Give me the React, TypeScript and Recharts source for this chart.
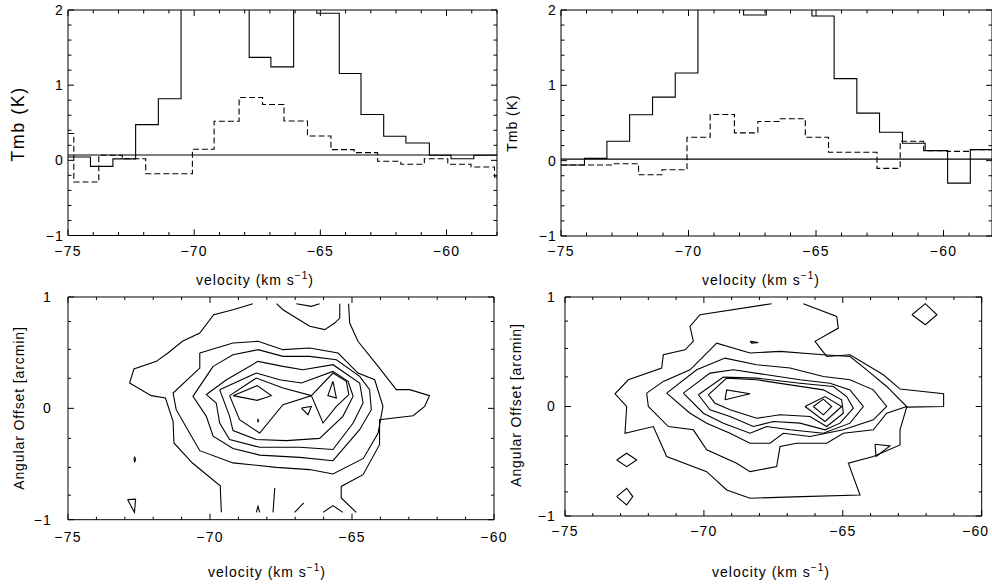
import React from 'react';
import { ComposedChart, Line, XAxis, YAxis, ReferenceLine } from 'recharts';

const FONT = '"Liberation Sans", Arial, Helvetica, sans-serif';

// ---------- Top-left spectrum ----------
const tlSolidEdges = [-75.0, -74.11, -73.22, -72.32, -71.42, -70.52, -69.63, -68.73, -67.82, -66.96, -66.06, -65.14, -64.25, -63.39, -62.49, -61.61, -60.68, -59.82, -58.92, -58.0];
const tlSolidValues = [0.045, -0.08, 0.02, 0.475, 0.82, 2.5, 2.8, 2.4, 1.37, 1.244, 2.3, 1.956, 1.156, 0.61, 0.32, 0.23, 0.067, 0.022, 0.067];
const tlDashEdges = [-75.0, -74.77, -73.78, -72.85, -71.92, -71.0, -70.07, -69.21, -68.22, -67.29, -66.44, -65.51, -64.58, -63.66, -62.73, -61.81, -60.88, -59.95, -59.03, -58.1, -58.0];
const tlDashValues = [0.356, -0.289, 0.067, 0.022, -0.178, -0.178, 0.147, 0.52, 0.836, 0.742, 0.524, 0.324, 0.142, 0.102, -0.013, -0.053, 0.022, -0.053, -0.089, -0.222];
const tlBaseline = 0.07;

// ---------- Top-right spectrum ----------
const trSolidEdges = [-75.0, -74.08, -73.2, -72.31, -71.41, -70.52, -69.63, -68.73, -67.84, -66.95, -66.06, -65.16, -64.29, -63.4, -62.51, -61.61, -60.72, -59.84, -58.95, -58.1];
const trSolidValues = [-0.058, 0.031, 0.258, 0.609, 0.844, 1.164, 2.6, 2.8, 1.933, 2.7, 2.5, 1.92, 1.089, 0.631, 0.378, 0.231, 0.133, -0.298, 0.147];
const trDashEdges = [-75.0, -73.85, -72.94, -71.96, -71.04, -70.06, -69.15, -68.2, -67.28, -66.4, -65.42, -64.51, -63.55, -62.61, -61.7, -60.78, -59.87, -58.95, -58.1];
const trDashValues = [-0.058, -0.058, -0.04, -0.187, -0.12, 0.31, 0.613, 0.369, 0.52, 0.556, 0.31, 0.111, 0.111, -0.102, 0.258, 0.133, 0.124, 0.147];
const trBaseline = 0.02;

// ---------- Bottom-left position-velocity contours: [velocity, offset] ----------
const blOuterLeft = [[-68.49, 0.94], [-69.19, 0.886], [-69.87, 0.841], [-70.36, 0.677], [-70.97, 0.602], [-71.48, 0.497], [-71.89, 0.422], [-72.68, 0.353], [-72.83, 0.228], [-72.07, 0.114], [-71.57, 0.093], [-71.3, -0.117], [-71.27, -0.311], [-70.62, -0.491], [-69.64, -0.695], [-69.6, -0.934]];
const blOuterRight = [[-65.12, 0.94], [-65.08, 0.766], [-64.79, 0.602], [-64.08, 0.377], [-63.44, 0.168], [-62.97, 0.168], [-62.27, 0.114], [-62.44, 0.018], [-62.85, -0.066], [-64.03, -0.102], [-64.03, -0.326], [-64.61, -0.596], [-65.38, -0.701], [-65.38, -0.805], [-64.85, -0.934]];
const blTopTrough = [[-67.66, 0.94], [-67.43, 0.886], [-66.49, 0.737], [-65.96, 0.707], [-65.61, 0.766], [-65.43, 0.811], [-65.43, 0.94]];
const blOuterBottom = [[-67.78, -0.934], [-67.72, -0.716]];
const blBottomSlash = [[-67.02, -0.934], [-66.7, -0.85]];
const blTopArch = [[-66.96, 0.94], [-66.43, 0.916], [-66.14, 0.94]];
const blBottomArch = [[-66.02, -0.934], [-65.67, -0.874], [-65.32, -0.934]];
const blBottomWedge = [[-68.37, -0.934], [-68.31, -0.88], [-68.25, -0.934]];
const blCornerBit = [[-72.9, -0.82], [-72.62, -0.815], [-72.66, -0.934], [-72.9, -0.82]];
const blDot1 = [[-72.68, -0.46], [-72.65, -0.44], [-72.62, -0.46], [-72.65, -0.48], [-72.68, -0.46]];
const blRing2 = [[-70.36, 0.497], [-69.19, 0.587], [-68.31, 0.602], [-67.43, 0.527], [-66.49, 0.542], [-65.49, 0.497], [-64.79, 0.317], [-64.2, 0.257], [-63.91, 0.018], [-64.08, -0.222], [-64.6, -0.45], [-65.67, -0.59], [-66.49, -0.55], [-67.66, -0.53], [-69.19, -0.49], [-70.36, -0.38], [-70.72, -0.222], [-71.19, -0.012], [-71.3, 0.138], [-70.36, 0.362], [-70.36, 0.497]];
const blRing3 = [[-69.89, 0.377], [-69.19, 0.482], [-68.31, 0.527], [-67.43, 0.467], [-66.49, 0.467], [-65.55, 0.437], [-64.73, 0.287], [-64.38, 0.168], [-64.32, -0.012], [-64.73, -0.192], [-65.67, -0.47], [-66.84, -0.44], [-68.25, -0.42], [-69.19, -0.36], [-69.89, -0.25], [-70.13, -0.072], [-70.6, 0.108], [-69.89, 0.377]];
const blRing4 = [[-69.42, 0.257], [-68.31, 0.422], [-67.43, 0.377], [-66.73, 0.347], [-65.67, 0.392], [-64.73, 0.228], [-64.61, 0.048], [-64.96, -0.132], [-65.67, -0.37], [-66.84, -0.35], [-68.25, -0.35], [-69.31, -0.28], [-69.66, -0.132], [-69.78, 0.048], [-70.13, 0.123], [-69.42, 0.257]];
const blRing5 = [[-69.66, 0.168], [-68.37, 0.317], [-67.55, 0.257], [-66.78, 0.228], [-65.67, 0.332], [-65.14, 0.243], [-64.96, 0.108], [-65.32, -0.072], [-66.14, -0.27], [-67.31, -0.29], [-68.37, -0.28], [-69.19, -0.2], [-69.31, -0.072], [-69.66, 0.168]];
const blRing6 = [[-69.31, 0.114], [-68.37, 0.272], [-67.43, 0.183], [-66.43, 0.114], [-65.67, 0.317], [-65.2, 0.243], [-65.11, 0.123], [-65.55, 0.018], [-66.02, -0.132], [-66.43, 0.114], [-67.43, 0.033], [-68.25, -0.222], [-68.96, -0.102], [-69.31, 0.114]];
const blPeakLeft = [[-69.19, 0.114], [-68.34, 0.204], [-67.84, 0.114], [-68.34, 0.072], [-69.19, 0.114]];
const blPeakRight = [[-65.67, 0.243], [-65.55, 0.093], [-65.85, 0.114], [-65.67, 0.243]];
const blHole = [[-66.78, 0.003], [-66.43, 0.018], [-66.55, -0.057], [-66.78, 0.003]];
const blDot2 = [[-68.33, -0.11], [-68.31, -0.1], [-68.29, -0.11], [-68.31, -0.12], [-68.33, -0.11]];

// ---------- Bottom-right position-velocity contours: [velocity, offset] ----------
const brOuter = [[-67.56, 0.939], [-70.14, 0.838], [-70.5, 0.732], [-70.38, 0.595], [-70.68, 0.518], [-71.46, 0.473], [-71.52, 0.351], [-72.72, 0.244], [-73.2, 0.116], [-72.78, 0.0], [-72.84, -0.244], [-71.82, -0.183], [-71.34, -0.457], [-69.9, -0.595], [-69.18, -0.762], [-68.34, -0.838], [-66.48, -0.823], [-64.38, -0.808], [-64.8, -0.518], [-63.9, -0.457], [-62.94, -0.351], [-62.94, -0.213], [-62.7, -0.006], [-61.37, 0.0], [-61.37, 0.116], [-62.94, 0.159], [-63.54, 0.29], [-64.74, 0.473], [-65.58, 0.457], [-66.0, 0.595], [-65.16, 0.716], [-65.22, 0.823], [-66.42, 0.939]];
const brRing2 = [[-72.06, 0.122], [-71.46, 0.229], [-70.5, 0.335], [-69.54, 0.579], [-68.34, 0.488], [-67.26, 0.503], [-65.7, 0.473], [-64.74, 0.457], [-64.14, 0.335], [-63.42, 0.183], [-62.7, 0.0], [-63.42, -0.061], [-63.9, -0.213], [-64.98, -0.244], [-65.58, -0.335], [-66.66, -0.335], [-67.26, -0.366], [-67.38, -0.549], [-68.34, -0.595], [-68.82, -0.518], [-69.9, -0.396], [-70.38, -0.213], [-71.28, -0.183], [-72.0, 0.0], [-72.06, 0.122]];
const brRing3 = [[-71.34, 0.122], [-70.26, 0.335], [-69.24, 0.442], [-68.1, 0.381], [-66.9, 0.351], [-65.7, 0.274], [-64.74, 0.244], [-63.9, 0.152], [-63.42, 0.0], [-63.9, -0.122], [-64.98, -0.213], [-66.18, -0.274], [-67.14, -0.244], [-67.62, -0.335], [-68.34, -0.335], [-69.06, -0.244], [-69.9, -0.152], [-70.5, -0.061], [-71.34, 0.122]];
const brRing4 = [[-70.74, 0.122], [-69.78, 0.305], [-68.94, 0.335], [-67.74, 0.29], [-66.54, 0.244], [-65.46, 0.213], [-64.74, 0.152], [-64.26, 0.0], [-64.74, -0.152], [-65.7, -0.244], [-66.9, -0.213], [-67.74, -0.183], [-68.34, -0.244], [-69.3, -0.152], [-70.02, -0.061], [-70.74, 0.122]];
const brRing5 = [[-70.2, 0.107], [-69.3, 0.268], [-68.1, 0.259], [-66.54, 0.213], [-65.34, 0.183], [-64.86, 0.091], [-64.62, -0.015], [-65.1, -0.152], [-65.64, -0.213], [-66.54, -0.152], [-67.5, -0.137], [-68.22, -0.183], [-69.06, -0.091], [-69.78, -0.03], [-70.2, 0.107]];
const brRing6 = [[-69.84, 0.107], [-69.18, 0.259], [-68.1, 0.244], [-65.7, 0.152], [-65.04, 0.061], [-64.98, -0.061], [-65.58, -0.183], [-66.18, -0.091], [-67.26, -0.076], [-68.1, -0.107], [-69.06, -0.03], [-69.6, 0.03], [-69.84, 0.107]];
const brPeakLeft = [[-69.24, 0.061], [-69.18, 0.152], [-68.34, 0.116], [-69.24, 0.061]];
const brPeakRightOuter = [[-66.36, 0.0], [-65.64, 0.091], [-65.04, 0.0], [-65.64, -0.137], [-66.36, 0.0]];
const brPeakRightInner = [[-66.06, 0.0], [-65.7, 0.067], [-65.4, 0.0], [-65.7, -0.076], [-66.06, 0.0]];
const brTopRight = [[-62.51, 0.838], [-62.03, 0.939], [-61.61, 0.838], [-62.03, 0.747], [-62.51, 0.838]];
const brLeftIsland1 = [[-73.14, -0.488], [-72.78, -0.427], [-72.42, -0.488], [-72.78, -0.549], [-73.14, -0.488]];
const brLeftIsland2 = [[-73.14, -0.823], [-72.78, -0.747], [-72.56, -0.823], [-72.78, -0.899], [-73.14, -0.823]];
const brRightIsland = [[-63.84, -0.345], [-63.3, -0.36], [-63.8, -0.457], [-63.84, -0.345]];
const brSliver = [[-68.34, 0.595], [-68.04, 0.585], [-68.28, 0.579], [-68.34, 0.595]];

const blContours = [blOuterLeft, blOuterRight, blTopTrough, blOuterBottom, blBottomSlash, blTopArch, blBottomArch, blBottomWedge, blCornerBit, blDot1, blRing2, blRing3, blRing4, blRing5, blRing6, blPeakLeft, blPeakRight, blHole, blDot2];
const brContours = [brOuter, brRing2, brRing3, brRing4, brRing5, brRing6, brPeakLeft, brPeakRightOuter, brPeakRightInner, brTopRight, brLeftIsland1, brLeftIsland2, brRightIsland, brSliver];

// ---------- Axis ticks ----------
const specXTicks = [-75, -74, -73, -72, -71, -70, -69, -68, -67, -66, -65, -64, -63, -62, -61, -60, -59, -58];
const specXMajor = [-75, -70, -65, -60];
const specYTicks = [-1, -0.8, -0.6, -0.4, -0.2, 0, 0.2, 0.4, 0.6, 0.8, 1, 1.2, 1.4, 1.6, 1.8, 2];
const specYMajor = [-1, 0, 1, 2];
const mapXTicks = [-75, -74, -73, -72, -71, -70, -69, -68, -67, -66, -65, -64, -63, -62, -61, -60];
const mapXMajor = [-75, -70, -65, -60];
const mapYTicks = [-1, -0.78, -0.53, -0.27, 0, 0.27, 0.53, 0.78, 1];
const mapYMajor = [-1, 0, 1];

type Pt = { x: number; y: number };

function makeStep(edges: number[], values: number[]): Pt[] {
  const pts: Pt[] = values.map((v, i) => ({ x: edges[i], y: v }));
  pts.push({ x: edges[edges.length - 1], y: values[values.length - 1] });
  return pts;
}

const toPts = (arr: number[][]): Pt[] => arr.map(([x, y]) => ({ x, y }));

const fmt = (v: number) => (v < 0 ? '\u2212' + Math.abs(v) : String(v));

type TickOpts = {
  side: 'bottom' | 'top' | 'left' | 'right';
  majors: number[];
  majorLen: number;
  minorLen: number;
  labels: boolean;
  offset: number;
  fontSize: number;
  shifts?: number[][];
};

const makeTick = (o: TickOpts) => (props: any) => {
  const { x, y, payload } = props;
  const v = payload.value as number;
  const isMajor = o.majors.some((m) => Math.abs(m - v) < 1e-6);
  const len = isMajor ? o.majorLen : o.minorLen;
  let x2 = x, y2 = y;
  if (o.side === 'bottom') y2 = y - len;
  if (o.side === 'top') y2 = y + len;
  if (o.side === 'left') x2 = x + len;
  if (o.side === 'right') x2 = x - len;
  const shift = (o.shifts || []).find((s) => Math.abs(s[0] - v) < 1e-6);
  const dx = shift ? shift[1] : 0;
  let label: React.ReactNode = null;
  if (o.labels && isMajor) {
    if (o.side === 'bottom') {
      label = (
        <text x={x + dx} y={y + o.offset} textAnchor="middle" dominantBaseline="central" fontSize={o.fontSize} fontFamily={FONT} letterSpacing={1.2} fill="#000">
          {fmt(v)}
        </text>
      );
    } else if (o.side === 'left') {
      label = (
        <text x={x - o.offset} y={y} textAnchor="end" dominantBaseline="central" fontSize={o.fontSize} fontFamily={FONT} letterSpacing={1.2} fill="#000">
          {fmt(v)}
        </text>
      );
    }
  }
  return (
    <g>
      <line x1={x} y1={y} x2={x2} y2={y2} stroke="#000" strokeWidth={1} />
      {label}
    </g>
  );
};

type PanelProps = {
  x0: number; x1: number; y0: number; y1: number;
  xDomain: [number, number]; yDomain: [number, number];
  xTicks: number[]; xMajor: number[]; yTicks: number[]; yMajor: number[];
  xLabelOffset: number; yLabelOffset: number;
  majorLen: number; minorLen: number;
  xShifts?: number[][];
  children?: React.ReactNode;
};

const L = 80, R = 24, T = 12, B = 40;

function Panel(p: PanelProps) {
  const width = p.x1 - p.x0 + L + R;
  const height = p.y1 - p.y0 + T + B;
  const fs = 14;
  return (
    <div style={{ position: 'absolute', left: p.x0 - L, top: p.y0 - T, width, height }}>
      <ComposedChart width={width} height={height} margin={{ top: 0, right: 0, bottom: 0, left: 0 }}>
        <XAxis
          xAxisId={0} dataKey="x" type="number" domain={p.xDomain} ticks={p.xTicks} interval={0}
          allowDataOverflow height={B} tickSize={0} tickMargin={0} tickLine={false}
          axisLine={{ stroke: '#000', strokeWidth: 1 }}
          tick={makeTick({ side: 'bottom', majors: p.xMajor, majorLen: p.majorLen, minorLen: p.minorLen, labels: true, offset: p.xLabelOffset, fontSize: fs, shifts: p.xShifts })}
        />
        <XAxis
          xAxisId="top" orientation="top" dataKey="x" type="number" domain={p.xDomain} ticks={p.xTicks} interval={0}
          allowDataOverflow height={T} tickSize={0} tickMargin={0} tickLine={false}
          axisLine={{ stroke: '#000', strokeWidth: 1 }}
          tick={makeTick({ side: 'top', majors: p.xMajor, majorLen: p.majorLen, minorLen: p.minorLen, labels: false, offset: 0, fontSize: fs })}
        />
        <YAxis
          yAxisId={0} type="number" domain={p.yDomain} ticks={p.yTicks} interval={0}
          allowDataOverflow width={L} tickSize={0} tickMargin={0} tickLine={false}
          axisLine={{ stroke: '#000', strokeWidth: 1 }}
          tick={makeTick({ side: 'left', majors: p.yMajor, majorLen: p.majorLen, minorLen: p.minorLen, labels: true, offset: p.yLabelOffset, fontSize: fs })}
        />
        <YAxis
          yAxisId="right" orientation="right" type="number" domain={p.yDomain} ticks={p.yTicks} interval={0}
          allowDataOverflow width={R} tickSize={0} tickMargin={0} tickLine={false}
          axisLine={{ stroke: '#000', strokeWidth: 1 }}
          tick={makeTick({ side: 'right', majors: p.yMajor, majorLen: p.majorLen, minorLen: p.minorLen, labels: false, offset: 0, fontSize: fs })}
        />
        {p.children}
      </ComposedChart>
    </div>
  );
}

function stepLine(pts: Pt[], dashed: boolean, key: string) {
  return (
    <Line
      key={key} data={pts} dataKey="y" type="stepAfter" dot={false} activeDot={false}
      stroke="#000" strokeWidth={1.1} strokeDasharray={dashed ? '6 3' : undefined}
      isAnimationActive={false} xAxisId={0} yAxisId={0}
    />
  );
}

function contourLines(list: number[][][], prefix: string) {
  return list.map((c, i) => (
    <Line
      key={prefix + i} data={toPts(c)} dataKey="y" type="linear" dot={false} activeDot={false}
      stroke="#000" strokeWidth={1.1} isAnimationActive={false} xAxisId={0} yAxisId={0}
    />
  ));
}

export default function App() {
  const tlSolid = makeStep(tlSolidEdges, tlSolidValues);
  const tlDash = makeStep(tlDashEdges, tlDashValues);
  const trSolid = makeStep(trSolidEdges, trSolidValues);
  const trDash = makeStep(trDashEdges, trDashValues);
  const vel = (x: number, y: number, size: number, ls: number) => (
    <text x={x} y={y} textAnchor="middle" fontSize={size} letterSpacing={ls}>
      velocity (km s<tspan dy={-6} fontSize={10}>{'\u22121'}</tspan><tspan dy={6}>)</tspan>
    </text>
  );
  return (
    <div style={{ position: 'absolute', left: 0, top: 0, width: 992, height: 586, background: '#fff', overflow: 'hidden', fontFamily: FONT }}>
      <Panel x0={67.5} x1={496.5} y0={10} y1={235.5} xDomain={[-75, -58]} yDomain={[-1, 2]}
        xTicks={specXTicks} xMajor={specXMajor} yTicks={specYTicks} yMajor={specYMajor}
        xLabelOffset={15} yLabelOffset={4} majorLen={6} minorLen={3.5}>
        <ReferenceLine y={tlBaseline} stroke="#000" strokeWidth={1.1} ifOverflow="hidden" />
        {stepLine(tlSolid, false, 'tls')}
        {stepLine(tlDash, true, 'tld')}
      </Panel>
      <Panel x0={561} x1={992} y0={10} y1={236} xDomain={[-75, -58.1]} yDomain={[-1, 2]}
        xTicks={specXTicks} xMajor={specXMajor} yTicks={specYTicks} yMajor={specYMajor}
        xLabelOffset={15} yLabelOffset={4} majorLen={6} minorLen={3.5}>
        <ReferenceLine y={trBaseline} stroke="#000" strokeWidth={1.1} ifOverflow="hidden" />
        {stepLine(trSolid, false, 'trs')}
        {stepLine(trDash, true, 'trd')}
      </Panel>
      <Panel x0={68.3} x1={494.3} y0={297.3} y1={520} xDomain={[-75, -60]} yDomain={[-1, 1]}
        xTicks={mapXTicks} xMajor={mapXMajor} yTicks={mapYTicks} yMajor={mapYMajor}
        xLabelOffset={17} yLabelOffset={16} majorLen={6} minorLen={3}>
        {contourLines(blContours, 'bl')}
      </Panel>
      <Panel x0={565} x1={981.7} y0={297.3} y1={516.3} xDomain={[-75, -60]} yDomain={[-1, 1]}
        xTicks={mapXTicks} xMajor={mapXMajor} yTicks={mapYTicks} yMajor={mapYMajor}
        xLabelOffset={15} yLabelOffset={9} majorLen={6} minorLen={3} xShifts={[[-60, -6]]}>
        {contourLines(brContours, 'br')}
      </Panel>
      <svg width={992} height={586} style={{ position: 'absolute', left: 0, top: 0, pointerEvents: 'none' }}>
        <g fontFamily={FONT} fill="#000">
          {vel(255, 285, 14, 1)}
          {vel(761, 285, 14, 1)}
          {vel(267, 577, 14, 1)}
          {vel(771, 577, 14, 1)}
          <text x={0} y={0} transform="translate(24,124) rotate(-90)" textAnchor="middle" fontSize={18} letterSpacing={1.5}>Tmb (K)</text>
          <text x={0} y={0} transform="translate(517,123) rotate(-90)" textAnchor="middle" fontSize={14} letterSpacing={1}>Tmb (K)</text>
          <text x={0} y={0} transform="translate(24,408) rotate(-90)" textAnchor="middle" fontSize={14} letterSpacing={0.9}>Angular Offset [arcmin]</text>
          <text x={0} y={0} transform="translate(521,405) rotate(-90)" textAnchor="middle" fontSize={14} letterSpacing={0.9}>Angular Offset [arcmin]</text>
        </g>
      </svg>
    </div>
  );
}
